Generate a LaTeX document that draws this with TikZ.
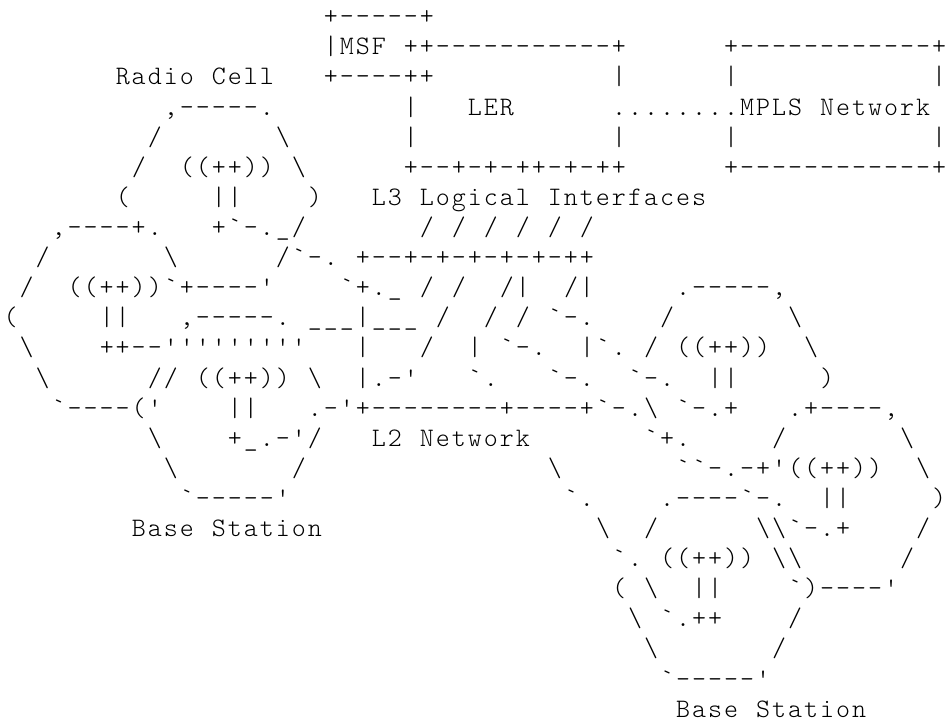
\documentclass[tikz,border=0pt]{standalone}
\newcommand\asB{\textbackslash}
\newcommand\asQ{\textquotesingle}
\newcommand\asG{\textasciigrave}
\def\aschs#1{\ifx#1\relax\else\makebox[5.25pt]{#1}\expandafter\aschs\fi}
\newcommand\seg[3]{\node[asc] (s#1x#2) at ({0.886+5.25*#2},{-8.134-9.872*(#1-1)}) {\aschs#3\relax};}
\tikzset{asc/.style={inner sep=0pt, outer sep=0pt, anchor=base west, text=black,
  font=\fontsize{8.75}{10}\selectfont\fontseries{l}\ttfamily}}
\begin{document}
\begin{tikzpicture}[x=1pt,y=1pt]
\fill[white] (0,0) rectangle (310.9,-237.45);
\useasboundingbox (0,0) rectangle (310.9,-237.45);
\seg{1}{20}{+-----+}
\seg{2}{20}{|MSF~++-----------+}
\seg{2}{45}{+------------+}
\seg{3}{7}{Radio~Cell}
\seg{3}{20}{+----++}
\seg{3}{38}{|}
\seg{3}{45}{|}
\seg{3}{58}{|}
\seg{4}{10}{,-----.}
\seg{4}{25}{|}
\seg{4}{29}{LER}
\seg{4}{38}{........MPLS~Network}
\seg{5}{9}{/}
\seg{5}{17}{\asB}
\seg{5}{25}{|}
\seg{5}{38}{|}
\seg{5}{45}{|}
\seg{5}{58}{|}
\seg{6}{8}{/}
\seg{6}{11}{((++))}
\seg{6}{18}{\asB}
\seg{6}{25}{+--+-+-++-+-++}
\seg{6}{45}{+------------+}
\seg{7}{7}{(}
\seg{7}{13}{||}
\seg{7}{19}{)}
\seg{7}{23}{L3~Logical~Interfaces}
\seg{8}{3}{,----+.}
\seg{8}{13}{+\asG-.\_/}
\seg{8}{26}{/~/~/~/~/~/}
\seg{9}{2}{/}
\seg{9}{10}{\asB}
\seg{9}{17}{/\asG-.}
\seg{9}{22}{+--+-+-+-+-+-++}
\seg{10}{1}{/}
\seg{10}{4}{((++))\asG+----\asQ}
\seg{10}{21}{\asG+.\_}
\seg{10}{26}{/~/}
\seg{10}{31}{/|}
\seg{10}{35}{/|}
\seg{10}{42}{.-----,}
\seg{11}{0}{(}
\seg{11}{6}{||}
\seg{11}{11}{,-----.}
\seg{11}{19}{\_\_\_|\_\_\_}
\seg{11}{27}{/}
\seg{11}{30}{/~/}
\seg{11}{34}{\asG-.}
\seg{11}{41}{/}
\seg{11}{49}{\asB}
\seg{12}{1}{\asB}
\seg{12}{6}{++--\asQ\asQ\asQ\asQ\asQ\asQ\asQ\asQ\asQ}
\seg{12}{22}{|}
\seg{12}{26}{/}
\seg{12}{29}{|~\asG-.}
\seg{12}{36}{|\asG.~/}
\seg{12}{42}{((++))}
\seg{12}{50}{\asB}
\seg{13}{2}{\asB}
\seg{13}{9}{//}
\seg{13}{12}{((++))}
\seg{13}{19}{\asB}
\seg{13}{22}{|.-\asQ}
\seg{13}{29}{\asG.}
\seg{13}{34}{\asG-.}
\seg{13}{39}{\asG-.}
\seg{13}{44}{||}
\seg{13}{51}{)}
\seg{14}{3}{\asG----(\asQ}
\seg{14}{14}{||}
\seg{14}{19}{.-\asQ+--------+----+\asG-.\asB~\asG-.+}
\seg{14}{49}{.+----,}
\seg{15}{9}{\asB}
\seg{15}{14}{+\_.-\asQ/}
\seg{15}{23}{L2~Network}
\seg{15}{40}{\asG+.}
\seg{15}{48}{/}
\seg{15}{56}{\asB}
\seg{16}{10}{\asB}
\seg{16}{18}{/}
\seg{16}{34}{\asB}
\seg{16}{42}{\asG\asG-.-+\asQ((++))}
\seg{16}{57}{\asB}
\seg{17}{11}{\asG-----\asQ}
\seg{17}{35}{\asG.}
\seg{17}{41}{.----\asG-.}
\seg{17}{51}{||}
\seg{17}{58}{)}
\seg{18}{8}{Base~Station}
\seg{18}{37}{\asB}
\seg{18}{40}{/}
\seg{18}{47}{\asB\asB\asG-.+}
\seg{18}{57}{/}
\seg{19}{38}{\asG.}
\seg{19}{41}{((++))}
\seg{19}{48}{\asB\asB}
\seg{19}{56}{/}
\seg{20}{38}{(}
\seg{20}{40}{\asB}
\seg{20}{43}{||}
\seg{20}{49}{\asG)----\asQ}
\seg{21}{39}{\asB}
\seg{21}{41}{\asG.++}
\seg{21}{49}{/}
\seg{22}{40}{\asB}
\seg{22}{48}{/}
\seg{23}{41}{\asG-----\asQ}
\seg{24}{42}{Base~Station}
\end{tikzpicture}
\end{document}
